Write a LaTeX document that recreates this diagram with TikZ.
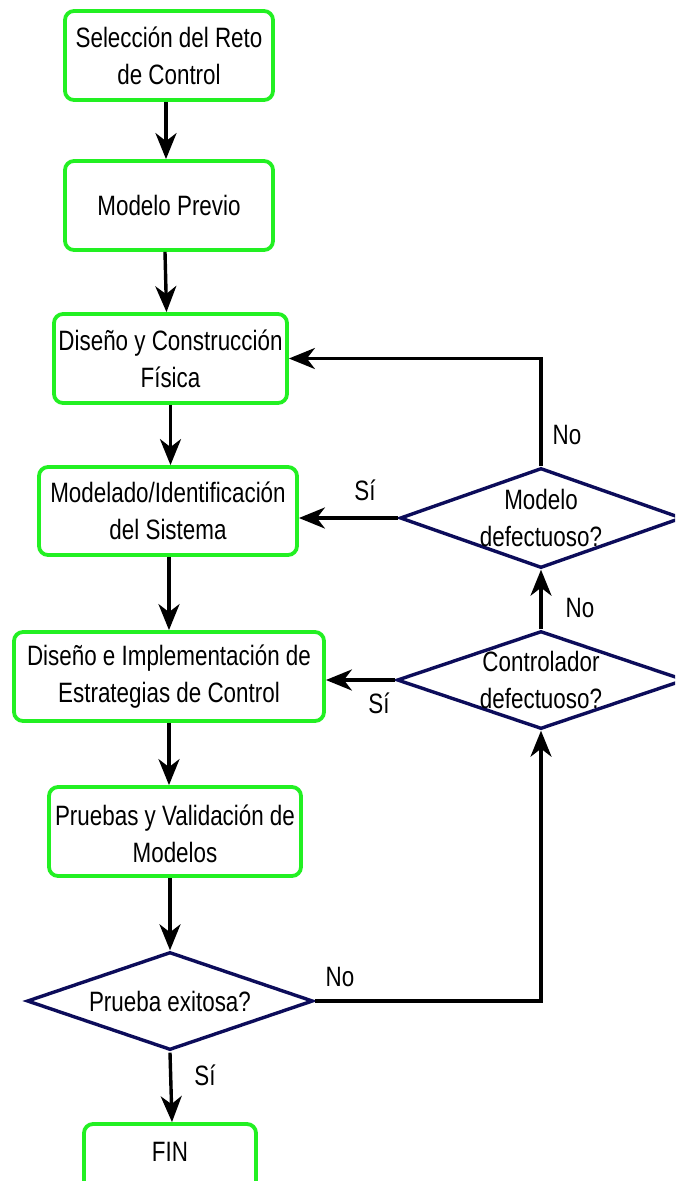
\documentclass[tikz,border=0pt]{standalone}
\usepackage{fontspec}
\setmainfont{Liberation Sans}[FakeStretch=0.8]
\usetikzlibrary{shapes.geometric,arrows.meta,calc}
\definecolor{boxgreen}{HTML}{22F022}
\definecolor{navy}{HTML}{0C0C5A}
\tikzset{
  txt/.style={font=\fontsize{28}{37}\selectfont, align=center, text=black},
  gbox/.style={draw=boxgreen, line width=3.8pt, rounded corners=9pt, rectangle, inner sep=0pt},
  dbox/.style={draw=navy, line width=3.4pt, diamond, inner sep=0pt},
  arr/.style={draw=black, line width=3.4pt, -{Stealth[length=26pt,width=21pt,inset=8pt]}},
}
\begin{document}
\begin{tikzpicture}[x=1pt,y=-1pt]
\clip (0,0) rectangle (675,1181);
\fill[white] (0,0) rectangle (675,1181);
% boxes
\node[gbox, minimum width=208pt, minimum height=89pt] (b1) at (169,55.5) {};
\node[txt] (t1) at (b1) {Selección del Reto\\de Control};
\node[gbox, minimum width=208pt, minimum height=89pt] (b2) at (169,205.5) {};
\node[txt] (t2) at (b2) {Modelo Previo};
\node[gbox, minimum width=233pt, minimum height=89pt] (b3) at (170.5,358.5) {};
\node[txt] (t3) at (b3) {Diseño y Construcción\\Física};
\node[gbox, minimum width=258pt, minimum height=88pt] (b4) at (168,511) {};
\node[txt] (t4) at (b4) {Modelado/Identificación\\del Sistema};
\node[gbox, minimum width=310pt, minimum height=89pt] (b5) at (169,676.5) {};
\node[txt] (t5) at (b5) {Diseño e Implementación de\\Estrategias de Control};
\node[gbox, minimum width=252pt, minimum height=89pt] (b6) at (175,831.5) {};
\node[txt] (t6) at (175,834) {Pruebas y Validación de\\Modelos};
\node[gbox, minimum width=172pt, minimum height=89pt] (fin) at (170,1168.5) {};
\node[txt] (t7) at (170,1152) {FIN};
% diamonds
\node[dbox, minimum width=282pt, minimum height=100pt] (d1) at (541,518) {};
\node[txt] (td1) at (d1) {Modelo\\defectuoso?};
\node[dbox, minimum width=288pt, minimum height=98pt] (d2) at (541,680) {};
\node[txt] (td2) at (d2) {Controlador\\defectuoso?};
\node[dbox, minimum width=286pt, minimum height=98pt] (d3) at (170,1001) {};
\node[txt] (td3) at (d3) {Prueba exitosa?};
% main chain
\draw[arr] ([xshift=-3pt]b1.south) -- ([xshift=-3pt]b2.north);
\draw[arr] ([xshift=-4pt]b2.south) -- ([xshift=-4pt]b3.north);
\draw[arr] (b3.south) -- (b4.north -| b3.south);
\draw[arr] ([xshift=1pt]b4.south) -- ([xshift=1pt]b5.north -| b4.south);
\draw[arr] (b5.south) -- (b6.north -| b5.south);
\draw[arr] ([xshift=-5pt]b6.south) -- (d3.north);
\draw[arr] ([yshift=-1pt]d3.south) -- ([xshift=2pt]fin.north);
% loops
\draw[arr] (d3.east) -| (d2.south);
\draw[arr] (d2.north) -- (d1.south);
\draw[arr] (d2.west) -- (d2.west -| b5.east);
\draw[arr] (d1.west) -- (d1.west -| b4.east);
\draw[arr] (d1.north) |- (b3.east);
% labels
\node[txt] (lno1) at (567,435) {No};
\node[txt] (lsi1) at (365,490) {Sí};
\node[txt] (lno2) at (580,608) {No};
\node[txt] (lsi2) at (379,703) {Sí};
\node[txt] (lno3) at (340,977) {No};
\node[txt] (lsi3) at (205,1075) {Sí};
\end{tikzpicture}
\end{document}
